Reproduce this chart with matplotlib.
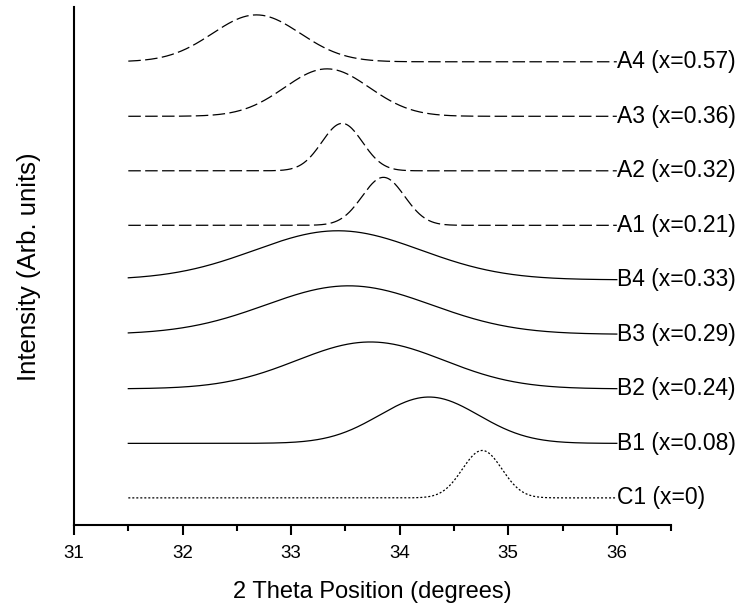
import numpy as np
import matplotlib.pyplot as plt

plt.rcParams['font.family'] = ['Liberation Sans', 'DejaVu Sans']

# peak parameters (2 theta in degrees)
labels = ['C1 (x=0)', 'B1 (x=0.08)', 'B2 (x=0.24)', 'B3 (x=0.29)', 'B4 (x=0.33)',
          'A1 (x=0.21)', 'A2 (x=0.32)', 'A3 (x=0.36)', 'A4 (x=0.57)']
centers = [34.76, 34.27, 33.73, 33.53, 33.43, 33.85, 33.47, 33.33, 32.68]
fwhm = [0.43, 1.08, 1.60, 1.80, 1.80, 0.46, 0.44, 0.92, 0.95]
heights = [0.87, 0.85, 0.86, 0.89, 0.90, 0.88, 0.87, 0.87, 0.86]
offsets = [0, 1, 2, 3, 4, 5, 6, 7, 8]
styles = ['dot', 'solid', 'solid', 'solid', 'solid', 'dash', 'dash', 'dash', 'dash']

x_start, x_end = 31.5, 36.0

ls_map = {'dot': (0, (1.6, 1.6)), 'solid': '-', 'dash': (0, (10, 3.5))}

fig = plt.figure(figsize=(7.44, 6.05), dpi=100)
ax = fig.add_axes([0.0995, 0.132, 0.8025, 0.856])

tt = np.linspace(x_start, x_end, 600)
for lab, c, w, h, off, st in zip(labels, centers, fwhm, heights, offsets, styles):
    sig = w / 2.3548
    yy = off + h * np.exp(-0.5 * ((tt - c) / sig) ** 2)
    ax.plot(tt, yy, color='black', lw=0.9, ls=ls_map[st])
    ax.text(x_end, off, lab, fontsize=16.5, va='center', ha='left', color='black')

ax.set_xlim(31, 36.5)
ax.set_ylim(-0.5, 9.0)
ax.set_xticks([31, 32, 33, 34, 35, 36])
ax.set_xticks([31.5, 32.5, 33.5, 34.5, 35.5, 36.5], minor=True)
ax.set_yticks([])
for s in ['top', 'right']:
    ax.spines[s].set_visible(False)
ax.spines['left'].set_linewidth(1.5)
ax.spines['bottom'].set_linewidth(1.5)
ax.tick_params(axis='x', which='major', length=7, width=1.5, labelsize=13.5, pad=7)
ax.tick_params(axis='x', which='minor', length=4, width=1.5)
ax.set_xlabel('2 Theta Position (degrees)', fontsize=17, labelpad=14)
ax.set_ylabel('Intensity (Arb. units)', fontsize=18.5, labelpad=24)

fig.savefig('out.png', dpi=100)
